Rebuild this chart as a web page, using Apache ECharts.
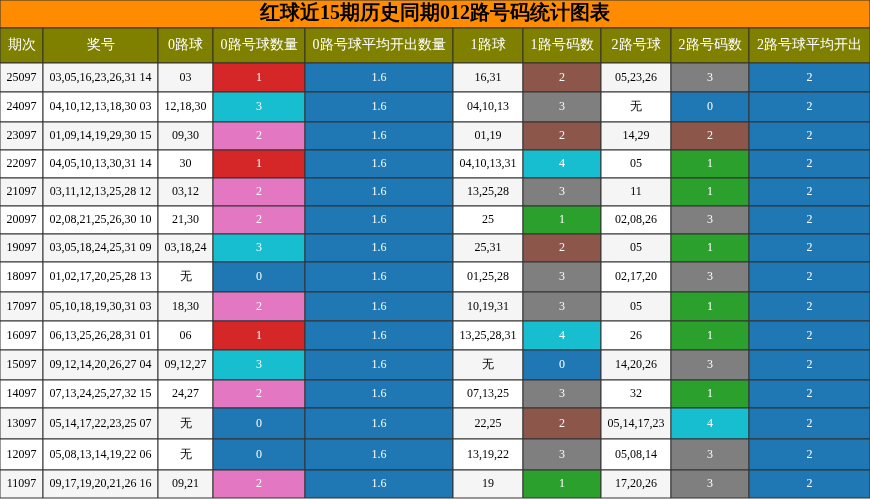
<!DOCTYPE html>
<html><head><meta charset="utf-8">
<script src="https://cdn.jsdelivr.net/npm/echarts@6/dist/echarts.min.js"></script>
<style>html,body{margin:0;padding:0;background:#fff}#c{width:870px;height:499px}</style>
</head><body><div id="c"></div>
<script>
const title = '红球近15期历史同期012路号码统计图表';
const headers = ['期次','奖号','0路球','0路号球数量','0路号球平均开出数量','1路球','1路号码数','2路号球','2路号码数','2路号球平均开出'];
const periods = ['25097','24097','23097','22097','21097','20097','19097','18097','17097','16097','15097','14097','13097','12097','11097'];
const draws = ['03,05,16,23,26,31 14','04,10,12,13,18,30 03','01,09,14,19,29,30 15','04,05,10,13,30,31 14','03,11,12,13,25,28 12','02,08,21,25,26,30 10','03,05,18,24,25,31 09','01,02,17,20,25,28 13','05,10,18,19,30,31 03','06,13,25,26,28,31 01','09,12,14,20,26,27 04','07,13,24,25,27,32 15','05,14,17,22,23,25 07','05,08,13,14,19,22 06','09,17,19,20,21,26 16'];
const balls0 = ['03','12,18,30','09,30','30','03,12','21,30','03,18,24','无','18,30','06','09,12,27','24,27','无','无','09,21'];
const count0 = [1,3,2,1,2,2,3,0,2,1,3,2,0,0,2];
const avg0 = [1.6,1.6,1.6,1.6,1.6,1.6,1.6,1.6,1.6,1.6,1.6,1.6,1.6,1.6,1.6];
const balls1 = ['16,31','04,10,13','01,19','04,10,13,31','13,25,28','25','25,31','01,25,28','10,19,31','13,25,28,31','无','07,13,25','22,25','13,19,22','19'];
const count1 = [2,3,2,4,3,1,2,3,3,4,0,3,2,3,1];
const balls2 = ['05,23,26','无','14,29','05','11','02,08,26','05','02,17,20','05','26','14,20,26','32','05,14,17,23','05,08,14','17,20,26'];
const count2 = [3,0,2,1,1,3,1,3,1,1,3,1,4,3,3];
const avg2 = [2,2,2,2,2,2,2,2,2,2,2,2,2,2,2];

const colEdges = [0,43,158,213,305,453,523,601,671,749,870];
const rowEdges = [63,92,122,150,178,206,234,262,292,321,350,380,408,439,470,498];
const map0 = {0:'#1f77b4',1:'#d62728',2:'#e377c2',3:'#17becf'};
const mapN = {0:'#1f77b4',1:'#2ca02c',2:'#8c564b',3:'#7f7f7f',4:'#17becf'};

const cells = [];
cells.push([0,870,0,28,title,'#ff8c00','#000',20,'bold']);
headers.forEach((h,i)=>cells.push([colEdges[i],colEdges[i+1],28,63,h,'#808000','#fff',14,'normal']));
periods.forEach((p,r)=>{
  const plain = r%2===0 ? '#f5f5f5' : '#ffffff';
  const vals = [
    [p,plain,'#000'],[draws[r],plain,'#000'],[balls0[r],plain,'#000'],
    [String(count0[r]),map0[count0[r]],'#fff'],[avg0[r].toFixed(1),'#1f77b4','#fff'],
    [balls1[r],plain,'#000'],[String(count1[r]),mapN[count1[r]],'#fff'],
    [balls2[r],plain,'#000'],[String(count2[r]),mapN[count2[r]],'#fff'],
    [String(avg2[r]),'#1f77b4','#fff']];
  vals.forEach((v,c)=>cells.push([colEdges[c],colEdges[c+1],rowEdges[r],rowEdges[r+1],v[0],v[1],v[2],12,'normal']));
});

const chart = echarts.init(document.getElementById('c'));
chart.setOption({
  animation:false,
  grid:{left:0,right:0,top:0,bottom:0},
  xAxis:{type:'value',min:0,max:870,show:false},
  yAxis:{type:'value',min:0,max:499,inverse:true,show:false},
  series:[{
    type:'custom',
    data:cells,
    renderItem:(params,api)=>{
      const d = cells[params.dataIndex];
      const p0 = api.coord([d[0],d[2]]), p1 = api.coord([d[1],d[3]]);
      return {type:'group',children:[
        {type:'rect',shape:{x:p0[0],y:p0[1],width:p1[0]-p0[0],height:p1[1]-p0[1]},
         style:{fill:d[5],stroke:'#333',lineWidth:1}},
        {type:'text',style:{x:(p0[0]+p1[0])/2,y:(p0[1]+p1[1])/2,text:d[4],fill:d[6],
          fontSize:d[7],fontWeight:d[8],fontFamily:'"Liberation Serif","DejaVu Serif",serif',
          align:'center',verticalAlign:'middle'}}
      ]};
    }
  }]
});
</script></body></html>
